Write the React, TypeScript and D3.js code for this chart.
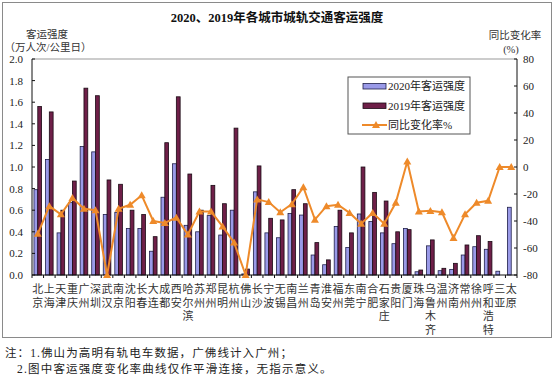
import React from "react";
import * as d3 from "d3";

const cities = ["北京","上海","天津","重庆","广州","深圳","武汉","南京","沈阳","长春","大连","成都","西安","哈尔滨","苏州","郑州","昆明","杭州","佛山","长沙","宁波","无锡","南昌","兰州","青岛","淮安","福州","东莞","南宁","合肥","石家庄","贵阳","厦门","珠海","乌鲁木齐","温州","济南","常州","徐州","呼和浩特","三亚","太原"];
const v2020 = [0.79,1.07,0.39,0.67,1.19,1.14,0.56,0.58,0.43,0.43,0.22,0.72,1.03,0.46,0.40,0.55,0.37,0.60,0.01,0.77,0.39,0.345,0.57,0.555,0.185,0.095,0.45,0.255,0.565,0.495,0.39,0.29,0.43,0.03,0.27,0.04,0.052,0.185,0.262,0.238,0.035,0.627];
const v2019: (number | null)[] = [1.56,1.51,0.60,0.87,1.73,1.66,0.88,0.84,0.60,0.56,0.355,1.225,1.65,0.935,0.60,0.83,0.66,1.36,0.055,1.01,0.525,0.51,0.79,0.66,0.30,0.14,0.60,0.39,1.0,0.765,0.685,0.40,0.42,0.046,0.325,0.062,0.108,0.278,0.364,0.31,null,null];
const change = [-49.5,-29,-35,-23,-31,-32,-80,-31,-28,-21,-40,-41.5,-37.5,-50,-33,-33,-44,-56,-80,-24,-26,-33.5,-27.5,-15,-39,-29,-28,-34,-42,-34,-42,-26.5,4,-33,-32.5,-33.5,-52.5,-35,-26.5,-25,0,0];
const leftTicks = [0,0.2,0.4,0.6,0.8,1.0,1.2,1.4,1.6,1.8,2.0];
const rightTicks = [-80,-60,-40,-20,0,20,40,60,80];
const legendLabels = ["2020年客运强度","2019年客运强度","同比变化率%"];

const FONT = "'Liberation Serif','Noto Sans CJK SC',serif";
const C2020 = "#9a9ae8";
const C2020S = "#20204a";
const C2019 = "#6e1f48";
const C2019S = "#1a0a14";
const CLINE = "#ee8a2a";

export default function App() {
  const L = 32, R = 517, T = 59, B = 275;
  const x = d3.scaleBand<string>().domain(cities).range([L, R]).padding(0);
  const yL = d3.scaleLinear().domain([0, 2]).range([B, T]);
  const yR = d3.scaleLinear().domain([-80, 80]).range([B, T]);
  const bw = 3.8;
  const cx = (c: string) => (x(c) as number) + x.bandwidth() / 2;
  const line = d3.line<number>().x((_, i) => cx(cities[i])).y(d => yR(d));
  const tri = (px: number, py: number, s = 4) => `M${px},${py - s}L${px + s},${py + s * 0.75}L${px - s},${py + s * 0.75}Z`;

  return (
    <svg width={554} height={382} style={{ position: "absolute", left: 0, top: 0, background: "#fff" }} fontFamily={FONT}>
      <rect x={2.5} y={2.5} width={549} height={335} fill="none" stroke="#8a8a8a" strokeWidth={1} />
      <text x={277} y={22} textAnchor="middle" fontSize={12.5} fontWeight="bold" fill="#111">2020、2019年各城市城轨交通客运强度</text>
      <text x={47} y={38} textAnchor="middle" fontSize={10.5} fill="#333">客运强度</text>
      <text x={48} y={51} textAnchor="middle" fontSize={10.5} fill="#333">（万人次/公里日）</text>
      <text x={515} y={39} textAnchor="middle" fontSize={10.5} fill="#333">同比变化率</text>
      <text x={511} y={53} textAnchor="middle" fontSize={10.5} fill="#333">(%)</text>

      {/* plot frame */}
      <line x1={L} x2={R} y1={T} y2={T} stroke="#999" />
      <line x1={L} x2={L} y1={T} y2={B} stroke="#111" />
      <line x1={R} x2={R} y1={T} y2={B} stroke="#111" />

      {/* bars */}
      {cities.map((c, i) => (
        <g key={c}>
          {v2020[i] > 0 && (
            <rect x={cx(c) - bw} y={yL(v2020[i])} width={bw} height={B - yL(v2020[i])} fill={C2020} stroke={C2020S} strokeWidth={0.8} />
          )}
          {v2019[i] != null && (
            <rect x={cx(c)} y={yL(v2019[i] as number)} width={bw} height={B - yL(v2019[i] as number)} fill={C2019} stroke={C2019S} strokeWidth={0.8} />
          )}
        </g>
      ))}

      <line x1={L} x2={R} y1={B} y2={B} stroke="#111" />

      {/* left ticks */}
      {leftTicks.map(t => (
        <g key={"l" + t}>
          <line x1={L} x2={L + 3} y1={yL(t)} y2={yL(t)} stroke="#111" />
          <text x={23} y={yL(t) + 4} textAnchor="end" fontSize={11} fill="#222">{t.toFixed(1)}</text>
        </g>
      ))}
      {rightTicks.map(t => (
        <g key={"r" + t}>
          <line x1={R - 3} x2={R} y1={yR(t)} y2={yR(t)} stroke="#111" />
          <text x={523} y={yR(t) + 4} textAnchor="start" fontSize={11} fill="#222">{t}</text>
        </g>
      ))}
      {/* x ticks */}
      {cities.concat([""]).map((c, i) => {
        const xx = L + i * x.step();
        return <line key={"xt" + i} x1={xx} x2={xx} y1={B} y2={B + 3} stroke="#111" />;
      })}

      {/* change line */}
      <path d={line(change) || ""} fill="none" stroke={CLINE} strokeWidth={2} />
      {change.map((v, i) => (
        <path key={"m" + i} d={tri(cx(cities[i]), yR(v))} fill={CLINE} />
      ))}

      {/* x labels */}
      {cities.map(c => (
        <g key={"xl" + c}>
          {c.split("").map((ch, j) => (
            <text key={j} x={cx(c)} y={293 + j * 13.7} textAnchor="middle" fontSize={11} fill="#333">{ch}</text>
          ))}
        </g>
      ))}

      {/* legend */}
      <rect x={348} y={77} width={122} height={57} fill="#fff" stroke="#555" strokeWidth={1} />
      <rect x={363} y={83.5} width={23} height={5.5} fill={C2020} stroke={C2020S} strokeWidth={0.8} />
      <rect x={363} y={103} width={23} height={5.5} fill={C2019} stroke={C2019S} strokeWidth={0.8} />
      <line x1={362} x2={387} y1={125} y2={125} stroke={CLINE} strokeWidth={2} />
      <path d={tri(376, 125)} fill={CLINE} />
      {legendLabels.map((l, i) => (
        <text key={l} x={388} y={90 + i * 19.5} fontSize={11} fill="#222">{l}</text>
      ))}

      {/* notes */}
      <text x={5} y={357} fontSize={11.5} fill="#222" letterSpacing={1.1}>注：1.佛山为高明有轨电车数据，广佛线计入广州；</text>
      <text x={17} y={373} fontSize={11.5} fill="#222" letterSpacing={1.2}>2.图中客运强度变化率曲线仅作平滑连接，无指示意义。</text>
    </svg>
  );
}
